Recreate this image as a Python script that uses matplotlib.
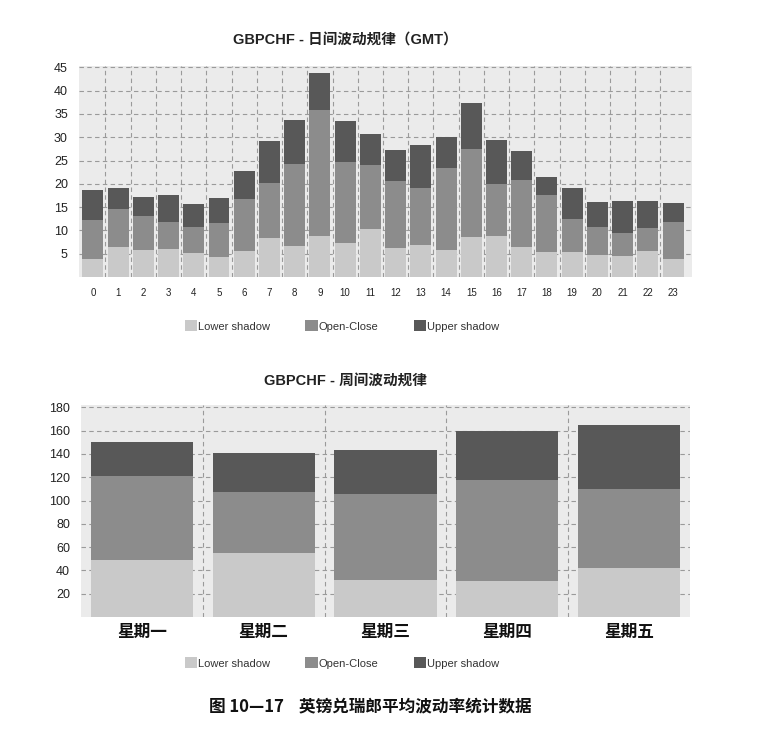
import numpy as np
import matplotlib
matplotlib.use("Agg")
import matplotlib.pyplot as plt
from matplotlib.patches import Patch

plt.rcParams['font.family'] = ['Liberation Sans', 'Noto Sans CJK SC', 'DejaVu Sans']

# daily (GMT hour) cumulative levels
hours = list(range(24))
hour_lower = [3.8, 6.4, 5.7, 6.0, 5.1, 4.3, 5.5, 8.4, 6.7, 8.8, 7.4, 10.4,
              6.3, 6.8, 5.7, 8.5, 8.9, 6.5, 5.3, 5.3, 4.8, 4.5, 5.6, 3.8]
hour_oc_top = [12.3, 14.6, 13.0, 11.8, 10.8, 11.5, 16.8, 20.1, 24.3, 35.9, 24.7, 24.0,
               20.7, 19.1, 23.3, 27.5, 20.0, 20.9, 17.5, 12.4, 10.7, 9.5, 10.6, 11.9]
hour_top = [18.7, 19.1, 17.1, 17.5, 15.7, 17.0, 22.7, 29.1, 33.6, 43.7, 33.4, 30.6,
            27.3, 28.4, 30.1, 37.4, 29.4, 27.0, 21.5, 19.1, 16.1, 16.4, 16.3, 15.8]

# weekly
days = ['星期一', '星期二', '星期三', '星期四', '星期五']
day_lower = [49, 55, 32, 31, 42]
day_oc_top = [121, 107, 106, 118, 110]
day_top = [150, 141, 143, 160, 165]

series_names = ['Lower shadow', 'Open-Close', 'Upper shadow']
colors = ['#c9c9c9', '#8c8c8c', '#585858']

W, H = 777, 733
fig = plt.figure(figsize=(W / 100, H / 100), dpi=100)
fig.patch.set_facecolor('white')


def px_axes(x0, y0, x1, y1):
    return fig.add_axes([x0 / W, 1 - y1 / H, (x1 - x0) / W, (y1 - y0) / H])


def stacked(ax, x, lower, oc_top, top, width):
    lower = np.array(lower)
    oc = np.array(oc_top) - lower
    up = np.array(top) - np.array(oc_top)
    ax.bar(x, lower, width, color=colors[0], zorder=3)
    ax.bar(x, oc, width, bottom=lower, color=colors[1], zorder=3)
    ax.bar(x, up, width, bottom=np.array(oc_top), color=colors[2], zorder=3)


def style(ax):
    ax.set_facecolor('#ebebeb')
    for s in ax.spines.values():
        s.set_visible(False)
    ax.tick_params(length=0, labelsize=8.5, colors='#222222')
    ax.grid(True, which='major', axis='y', color='#9a9a9a', linestyle=(0, (4, 3)), linewidth=0.8, zorder=1)
    ax.grid(True, which='minor', axis='x', color='#9a9a9a', linestyle=(0, (4, 3)), linewidth=0.8, zorder=1)


# top chart
ax1 = px_axes(79, 66, 692, 277)
stacked(ax1, hours, hour_lower, hour_oc_top, hour_top, 0.83)
style(ax1)
ax1.set_xlim(-0.55, 23.75)
ax1.set_ylim(0, 45.3)
ax1.set_yticks(range(5, 50, 5))
ax1.set_xticks(hours)
ax1.set_xticks(np.arange(0.5, 23, 1), minor=True)
ax1.tick_params(axis='x', labelsize=7, pad=8)
ax1.tick_params(axis='y', labelsize=9, pad=8)
ax1.tick_params(which='minor', length=0)
fig.text(345 / W, 1 - 40 / H, 'GBPCHF - 日间波动规律（GMT）', ha='center', va='center',
         fontsize=10.5, fontweight='bold', color='#222222')

# bottom chart
ax2 = px_axes(81, 405, 690, 617)
xd = np.arange(len(days))
stacked(ax2, xd, day_lower, day_oc_top, day_top, 0.84)
style(ax2)
ax2.set_xlim(-0.5, 4.5)
ax2.set_ylim(0, 182)
ax2.set_yticks(range(20, 200, 20))
ax2.set_xticks(xd)
ax2.set_xticks(np.arange(0.5, 4, 1), minor=True)
ax2.set_xticklabels(days, fontsize=12, fontweight='bold', family=['Noto Sans CJK SC'])
ax2.tick_params(axis='x', pad=4, colors='#111111')
ax2.tick_params(axis='y', labelsize=9, pad=8)
ax2.tick_params(which='minor', length=0)
fig.text(345 / W, 1 - 381 / H, 'GBPCHF - 周间波动规律', ha='center', va='center',
         fontsize=10.5, fontweight='bold', color='#222222')

handles = [Patch(facecolor=c, edgecolor='none') for c in colors]
for ycen in (326, 663):
    fig.legend(handles, series_names, loc='center', bbox_to_anchor=(342 / W, 1 - ycen / H),
               ncol=3, frameon=False, fontsize=8, handlelength=1.1, handleheight=1.1,
               handletextpad=0.1, columnspacing=3.2, labelcolor='#333333')

fig.text(370 / W, 1 - 706 / H, '图 10—17    英镑兑瑞郎平均波动率统计数据', ha='center', va='center',
         fontsize=12, fontweight='bold', family=['Noto Sans CJK SC'], color='#111111')

fig.savefig('out.png', dpi=100)
